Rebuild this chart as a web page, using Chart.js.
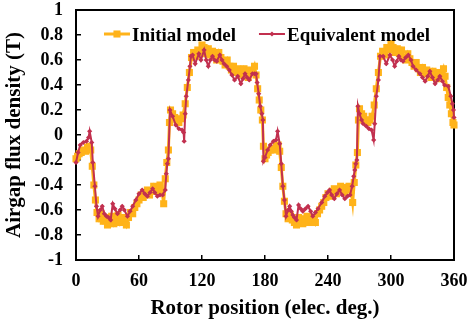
<!DOCTYPE html>
<html>
<head>
<meta charset="utf-8">
<script src="https://cdn.jsdelivr.net/npm/chart.js@4.4.0/dist/chart.umd.min.js"></script>
<style>
  html, body { margin: 0; padding: 0; background: #fff; }
  #wrap { width: 471px; height: 325px; }
</style>
</head>
<body>
<div id="wrap"><canvas id="myChart" width="471" height="325"></canvas></div>
<script>
// values (deg, T)
const seriesNames = ['Initial model', 'Equivalent model'];
const seriesColors = ['#FFB31A', '#C2304F'];

const initPos = [0, 1.5, 3, 5, 7, 9, 11, 12.5, 14, 15.5, 17, 18.5, 20, 22, 24, 26, 28, 30, 32, 34, 36, 38, 40, 42, 44, 46, 48, 50, 52, 54, 56, 58, 60, 62, 64, 66, 68, 70, 72, 74, 76, 78, 80, 82, 83.5, 85, 86.5, 88, 89, 90, 92, 94, 96, 98, 100, 102, 104, 106, 108, 110, 112, 114, 116, 118, 120, 122, 124, 126, 128, 130, 132, 134, 136, 138, 140, 142, 144, 146, 148, 150, 152, 154, 156, 158, 160, 162, 164, 166, 168, 170, 171.5, 173, 174.5, 176, 177.5, 178.5, 180,
  181.5, 183, 185, 187, 189, 191, 192.5, 194, 195.5, 197, 198.5, 200, 202, 204, 206, 208, 210, 212, 214, 216, 218, 220, 222, 224, 226, 228, 230, 232, 234, 236, 238, 240, 242, 244, 246, 248, 250, 252, 254, 256, 258, 260, 262, 263.5, 265, 266.5, 268, 269, 270, 272, 274, 276, 278, 280, 282, 284, 286, 288, 290, 292, 294, 296, 298, 300, 302, 304, 306, 308, 310, 312, 314, 316, 318, 320, 322, 324, 326, 328, 330, 332, 334, 336, 338, 340, 342, 344, 346, 348, 350, 351.5, 353, 354.5, 356, 357.5, 359, 360];
const initB = [-0.19, -0.17, -0.15, -0.14, -0.12, -0.13, -0.1, -0.09, -0.12, -0.25, -0.4, -0.52, -0.62, -0.67, -0.63, -0.69, -0.66, -0.72, -0.7, -0.65, -0.71, -0.68, -0.64, -0.7, -0.66, -0.68, -0.72, -0.66, -0.62, -0.63, -0.58, -0.55, -0.52, -0.48, -0.5, -0.46, -0.44, -0.48, -0.45, -0.41, -0.45, -0.42, -0.4, -0.45, -0.55, -0.35, -0.22, -0.12, 0.1, 0.2, 0.17, 0.14, 0.12, 0.1, 0.13, 0.16, 0.25, 0.38, 0.5, 0.62, 0.66, 0.63, 0.68, 0.66, 0.72, 0.7, 0.65, 0.69, 0.64, 0.67, 0.63, 0.6, 0.66, 0.62, 0.59, 0.56, 0.6, 0.55, 0.52, 0.55, 0.5, 0.53, 0.5, 0.48, 0.53, 0.5, 0.46, 0.52, 0.5, 0.55, 0.48, 0.37, 0.28, 0.2, 0.12, -0.09, -0.19,
  -0.16, -0.14, -0.12, -0.11, -0.12, -0.09, -0.08, -0.13, -0.26, -0.41, -0.53, -0.63, -0.67, -0.64, -0.68, -0.7, -0.72, -0.66, -0.69, -0.71, -0.67, -0.65, -0.7, -0.68, -0.66, -0.7, -0.63, -0.6, -0.57, -0.54, -0.5, -0.47, -0.49, -0.45, -0.43, -0.47, -0.44, -0.41, -0.44, -0.46, -0.42, -0.41, -0.44, -0.54, -0.38, -0.24, -0.14, 0.12, 0.21, 0.17, 0.15, 0.12, 0.1, 0.12, 0.15, 0.24, 0.37, 0.5, 0.63, 0.67, 0.64, 0.7, 0.68, 0.73, 0.7, 0.66, 0.69, 0.65, 0.68, 0.62, 0.6, 0.65, 0.61, 0.58, 0.55, 0.58, 0.53, 0.5, 0.54, 0.49, 0.52, 0.49, 0.46, 0.51, 0.47, 0.45, 0.5, 0.48, 0.53, 0.47, 0.38, 0.3, 0.24, 0.17, 0.1, 0.08];

const equivPos = [0, 2, 4, 7, 10, 12, 13, 15, 16, 18, 19.5, 21, 23, 25, 27, 29, 31, 33, 35, 37, 39.5, 42, 44, 46, 49, 51.5, 54, 57, 60, 63, 65.5, 68, 70.5, 73, 75, 77.5, 80, 82.5, 85, 86, 87, 88, 89.5, 92, 95, 98, 101, 102.5, 103, 104, 105, 107, 108.5, 109.5, 111, 113.5, 117, 119, 122, 124, 126, 128, 130, 132, 134, 137, 139, 141, 143.5, 146, 148.5, 151, 154, 157, 159, 161, 163, 165, 168, 170, 171.5, 172.5, 174, 175.5, 177, 178, 178.5, 180,
  182.5, 185, 188, 190.5, 192, 194, 195.5, 197, 198.5, 200, 202, 203.5, 205, 206.5, 208, 210, 212, 214, 216, 218.5, 221, 223.5, 225.5, 228, 230.5, 234, 237, 239.5, 241.5, 243.5, 246, 248.5, 251, 253.5, 256, 258.5, 261, 263, 264.5, 265.5, 266.5, 267.5, 268.5, 270, 272, 273.5, 276.5, 279, 281.5, 283.5, 284.5, 286, 288, 289.5, 292.5, 295.5, 299, 301.5, 303.5, 305.5, 307.5, 309.5, 311.5, 314, 316.5, 319, 321, 324, 327.5, 330, 332.5, 335, 337, 339.5, 342, 344.5, 346.5, 349, 351, 354.5, 357, 358.5, 359.5, 360];
const equivB = [-0.22, -0.14, -0.08, -0.06, -0.05, -0.02, 0.03, -0.06, -0.22, -0.41, -0.57, -0.65, -0.6, -0.57, -0.63, -0.65, -0.66, -0.68, -0.55, -0.59, -0.63, -0.6, -0.57, -0.6, -0.65, -0.61, -0.57, -0.52, -0.47, -0.44, -0.47, -0.49, -0.46, -0.43, -0.46, -0.49, -0.48, -0.48, -0.44, -0.31, -0.23, -0.19, 0.2, 0.15, 0.08, 0.05, 0.04, 0.02, -0.05, 0.17, 0.31, 0.44, 0.55, 0.63, 0.64, 0.57, 0.65, 0.6, 0.68, 0.6, 0.55, 0.6, 0.63, 0.6, 0.59, 0.64, 0.6, 0.57, 0.55, 0.52, 0.48, 0.44, 0.47, 0.41, 0.45, 0.49, 0.46, 0.44, 0.49, 0.49, 0.49, 0.42, 0.33, 0.23, 0.17, 0.12, -0.21, -0.18,
  -0.12, -0.08, -0.05, -0.04, 0.03, -0.07, -0.23, -0.41, -0.52, -0.65, -0.6, -0.57, -0.61, -0.64, -0.66, -0.68, -0.56, -0.59, -0.61, -0.59, -0.57, -0.61, -0.65, -0.62, -0.59, -0.54, -0.49, -0.46, -0.44, -0.48, -0.51, -0.47, -0.44, -0.48, -0.51, -0.49, -0.48, -0.41, -0.33, -0.28, -0.23, -0.2, 0.23, 0.17, 0.12, 0.09, 0.07, 0.05, 0.04, -0.04, 0.09, 0.31, 0.44, 0.63, 0.63, 0.57, 0.64, 0.6, 0.55, 0.59, 0.63, 0.6, 0.59, 0.62, 0.64, 0.6, 0.55, 0.52, 0.49, 0.46, 0.43, 0.47, 0.51, 0.46, 0.41, 0.44, 0.47, 0.43, 0.4, 0.39, 0.31, 0.25, 0.2, 0.14];

const xTicks = [0, 60, 120, 180, 240, 300, 360];
const yTicks = [-1, -0.8, -0.6, -0.4, -0.2, 0, 0.2, 0.4, 0.6, 0.8, 1];

const FONT = "'Liberation Serif', 'Times New Roman', serif";

const toPoints = (xs, ys) => xs.map((v, i) => ({x: v, y: ys[i]}));

// the frame: black border on all four sides, ticks pointing into the plot
const frameBorder = { display: true, color: '#000', width: 2 };
const inwardTicks = { display: true, drawOnChartArea: false, drawTicks: true, tickLength: -5, color: '#000', lineWidth: 1.5 };

// legend sits inside the plot: line + marker + label
const legendPlugin = {
    id: 'insideLegend',
    afterDraw(chart) {
        const ctx = chart.ctx;
        const a = chart.chartArea;
        ctx.save();
        ctx.font = "bold 19px " + FONT;
        ctx.textBaseline = 'alphabetic';
        const lineW = 26, gapText = 2, gapItem = 23;
        const widths = seriesNames.map(n => lineW + gapText + ctx.measureText(n).width);
        const total = widths.reduce((s, w) => s + w, 0) + gapItem;
        let x = (a.left + a.right) / 2 + 2 - total / 2;
        const yLine = a.top + 24;
        chart.data.datasets.forEach((ds, i) => {
            ctx.fillStyle = ds.borderColor;
            ctx.fillRect(x, yLine - ds.borderWidth / 2, lineW, ds.borderWidth);
            Chart.helpers.drawPoint(ctx, {
                pointStyle: ds.pointStyle,
                radius: ds.pointRadius,
                borderWidth: 0
            }, x + lineW / 2, yLine);
            ctx.fillStyle = '#000';
            ctx.fillText(seriesNames[i], x + lineW + gapText, yLine + 6.5);
            x += widths[i] + gapItem;
        });
        ctx.restore();
    }
};

document.addEventListener("DOMContentLoaded", function() {
    const ctx = document.getElementById('myChart').getContext('2d');
    const myChart = new Chart(ctx, {
        type: 'line',
        data: {
            datasets: [{
                label: seriesNames[0],
                data: toPoints(initPos, initB),
                xAxisID: 'x',
                yAxisID: 'y',
                borderColor: seriesColors[0],
                backgroundColor: seriesColors[0],
                borderWidth: 3,
                pointStyle: 'rect',
                pointRadius: 5,
                pointBorderWidth: 0,
                clip: 6,
                order: 2
            }, {
                label: seriesNames[1],
                data: toPoints(equivPos, equivB),
                xAxisID: 'x',
                yAxisID: 'y',
                borderColor: seriesColors[1],
                backgroundColor: seriesColors[1],
                borderWidth: 2,
                pointStyle: 'rectRot',
                pointRadius: 2.6,
                pointBorderWidth: 0,
                clip: 6,
                order: 1
            }]
        },
        options: {
            responsive: false,
            animation: false,
            devicePixelRatio: 1,
            layout: { padding: { top: 10, right: 17, left: 0, bottom: 0 } },
            scales: {
                x: {
                    type: 'linear',
                    position: 'bottom',
                    min: 0,
                    max: 360,
                    afterFit(s) { s.height = 65; s.paddingLeft = 0; s.paddingRight = 0; },
                    afterBuildTicks(s) { s.ticks = xTicks.map(v => ({value: v})); },
                    grid: inwardTicks,
                    border: frameBorder,
                    ticks: {
                        color: '#000',
                        padding: 17,
                        maxRotation: 0,
                        font: { family: FONT, weight: 'bold', size: 18, lineHeight: 1 }
                    },
                    title: {
                        display: true,
                        text: 'Rotor position (elec. deg.)',
                        color: '#000',
                        padding: { top: 0, bottom: 4 },
                        font: { family: FONT, weight: 'bold', size: 21, lineHeight: 1.2 }
                    }
                },
                y: {
                    position: 'left',
                    min: -1,
                    max: 1,
                    afterFit(s) { s.width = 76; s.paddingTop = 0; s.paddingBottom = 0; },
                    afterBuildTicks(s) { s.ticks = yTicks.map(v => ({value: v})); },
                    grid: inwardTicks,
                    border: frameBorder,
                    ticks: {
                        color: '#000',
                        padding: 18,
                        callback: v => String(Math.round(v * 10) / 10),
                        font: { family: FONT, weight: 'bold', size: 18, lineHeight: 1 }
                    },
                    title: {
                        display: true,
                        text: 'Airgap flux density (T)',
                        color: '#000',
                        padding: { top: 2, bottom: 0 },
                        font: { family: FONT, weight: 'bold', size: 21, lineHeight: 1.2 }
                    }
                },
                x2: {
                    type: 'linear',
                    position: 'top',
                    min: 0,
                    max: 360,
                    afterFit(s) { s.height = 0; s.paddingLeft = 0; s.paddingRight = 0; },
                    grid: { display: false },
                    border: frameBorder,
                    ticks: { display: false }
                },
                y2: {
                    position: 'right',
                    min: -1,
                    max: 1,
                    afterFit(s) { s.width = 0; s.paddingTop = 0; s.paddingBottom = 0; },
                    grid: { display: false },
                    border: frameBorder,
                    ticks: { display: false }
                }
            },
            plugins: {
                legend: { display: false },
                title: { display: false },
                tooltip: { enabled: false }
            }
        },
        plugins: [legendPlugin]
    });
});
</script>
</body>
</html>
